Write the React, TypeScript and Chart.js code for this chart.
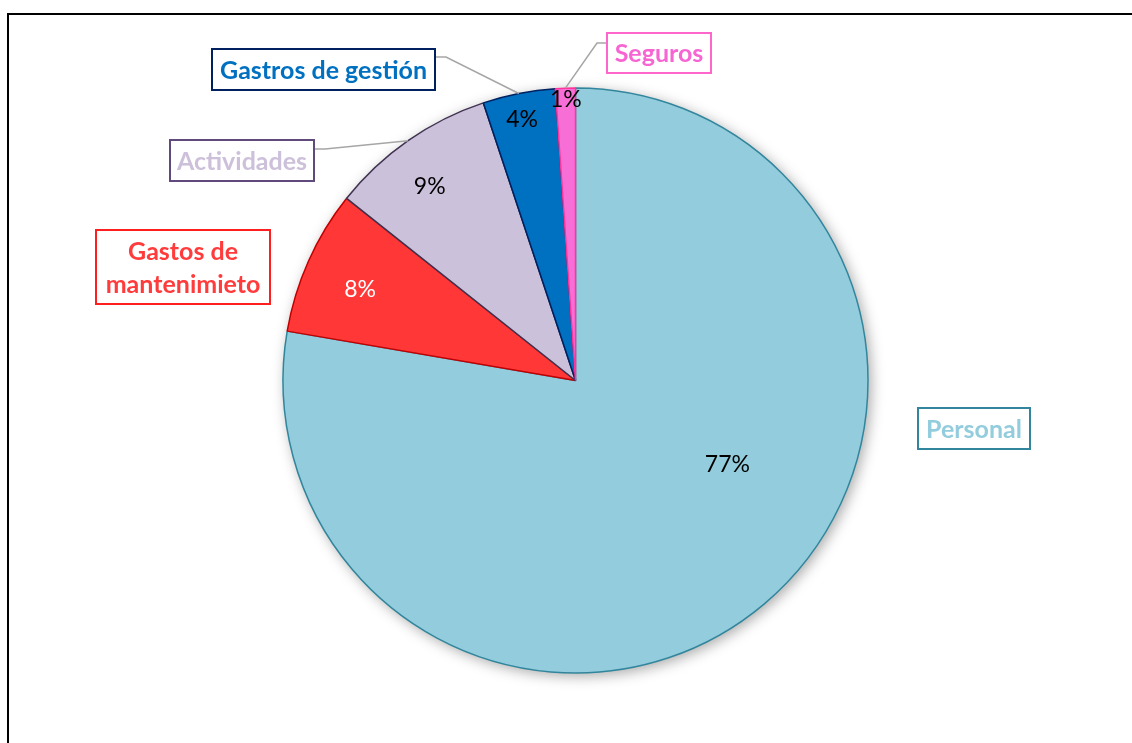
import React, { useEffect, useRef } from "react";
import { Chart, registerables } from "chart.js";

Chart.register(...registerables);

// ---- Data ----
const categories = ["Personal", "Gastos de mantenimiento", "Actividades", "Gastros de gestión", "Seguros"];
const values = [77.7, 8.0, 9.2, 4.0, 1.1];
const pctLabels = ["77%", "8%", "9%", "4%", "1%"];
const calloutText = [["Personal"], ["Gastos de", "mantenimieto"], ["Actividades"], ["Gastros de gestión"], ["Seguros"]];

// ---- Styles ----
const fillColors = ["#93CDDD", "#FF3737", "#CCC1DA", "#0070C0", "#F76FD6"];
const borderColors = ["#31859C", "#C00000", "#3F3151", "#002060", "#FF3399"];
const pctColors = ["#000000", "#FFFFFF", "#000000", "#000000", "#000000"];
const calloutTextColors = ["#93CDDD", "#FF3B3B", "#CCC0DA", "#0070C0", "#F765D3"];
const calloutBorderColors = ["#31859C", "#FF1F1F", "#604A7B", "#002060", "#FF66CC"];
// label placement within slice (angle fraction, radius fraction)
const pctAngleFrac = [0.425, 0.46, 0.44, 0.47, 0.5];
const pctRadiusFrac = [0.593, 0.8, 0.83, 0.91, 0.96];
// callout boxes: [x, y, w, h]
const calloutBoxes = [
  [918, 408, 112, 41],
  [96, 230, 174, 74],
  [170, 140, 144, 41],
  [212, 49, 223, 41],
  [607, 33, 104, 40],
];
// leader start (box side point) and elbow, or null
const leaders: (number[] | null)[] = [
  null,
  null,
  [314, 149, 325, 149],
  [435, 57, 446, 57],
  [607, 43, 597, 43],
];

const FONT = "Lato, 'Open Sans', sans-serif";

export default function App() {
  const ref = useRef<HTMLCanvasElement | null>(null);

  useEffect(() => {
    document.body.style.margin = "0";
    const canvas = ref.current!;

    const framePlugin = {
      id: "frame",
      beforeDraw(chart: any) {
        const ctx = chart.ctx;
        ctx.save();
        ctx.fillStyle = "#FFFFFF";
        ctx.fillRect(0, 0, chart.width, chart.height);
        ctx.strokeStyle = "#000000";
        ctx.lineWidth = 2;
        ctx.beginPath();
        ctx.moveTo(8, chart.height);
        ctx.lineTo(8, 14);
        ctx.lineTo(chart.width, 14);
        ctx.stroke();
        ctx.restore();
      },
      beforeDatasetsDraw(chart: any) {
        const meta = chart.getDatasetMeta(0);
        const arc = meta.data[0];
        if (!arc) return;
        const { x, y, outerRadius } = arc.getProps(["x", "y", "outerRadius"], true);
        const ctx = chart.ctx;
        ctx.save();
        ctx.shadowColor = "rgba(0,0,0,0.35)";
        ctx.shadowBlur = 14;
        ctx.shadowOffsetX = 3;
        ctx.shadowOffsetY = 3;
        ctx.fillStyle = "#FFFFFF";
        ctx.beginPath();
        ctx.arc(x, y, outerRadius, 0, Math.PI * 2);
        ctx.fill();
        ctx.restore();
      },
      afterDatasetsDraw(chart: any) {
        const ctx = chart.ctx;
        const meta = chart.getDatasetMeta(0);
        ctx.save();
        meta.data.forEach((arc: any, i: number) => {
          const { x, y, startAngle, endAngle, outerRadius } = arc.getProps(
            ["x", "y", "startAngle", "endAngle", "outerRadius"],
            true
          );
          // percentage label
          const a = startAngle + (endAngle - startAngle) * pctAngleFrac[i];
          const r = outerRadius * pctRadiusFrac[i];
          ctx.font = `23px ${FONT}`;
          ctx.fillStyle = pctColors[i];
          ctx.textAlign = "center";
          ctx.textBaseline = "middle";
          ctx.fillText(pctLabels[i], x + Math.cos(a) * r, y + Math.sin(a) * r);

          // leader line
          const ld = leaders[i];
          if (ld) {
            const mid = (startAngle + endAngle) / 2;
            ctx.strokeStyle = "#A6A6A6";
            ctx.lineWidth = 1.5;
            ctx.beginPath();
            ctx.moveTo(ld[0], ld[1]);
            ctx.lineTo(ld[2], ld[3]);
            ctx.lineTo(x + Math.cos(mid) * outerRadius, y + Math.sin(mid) * outerRadius);
            ctx.stroke();
          }

          // callout box
          const [bx, by, bw, bh] = calloutBoxes[i];
          ctx.fillStyle = "#FFFFFF";
          ctx.fillRect(bx, by, bw, bh);
          ctx.strokeStyle = calloutBorderColors[i];
          ctx.lineWidth = 2;
          ctx.strokeRect(bx, by, bw, bh);
          ctx.font = `bold 25px ${FONT}`;
          ctx.fillStyle = calloutTextColors[i];
          const lines = calloutText[i];
          const lh = 33;
          const cy = by + bh / 2;
          lines.forEach((t, j) => {
            ctx.fillText(t, bx + bw / 2, cy + (j - (lines.length - 1) / 2) * lh + 1);
          });
        });
        ctx.restore();
      },
    };

    const chart = new Chart(canvas, {
      type: "pie",
      data: {
        labels: categories,
        datasets: [
          {
            data: values,
            backgroundColor: fillColors,
            borderColor: borderColors,
            borderWidth: 1.5,
            radius: 292.5,
          } as any,
        ],
      },
      options: {
        responsive: false,
        animation: false,
        layout: { padding: { left: 19, top: 18, right: 0, bottom: 0 } },
        plugins: {
          legend: { display: false },
          tooltip: { enabled: false },
        },
      },
      plugins: [framePlugin],
    });

    return () => chart.destroy();
  }, []);

  return (
    <div style={{ width: 1132, height: 743 }}>
      <canvas ref={ref} width={1132} height={743} />
    </div>
  );
}
